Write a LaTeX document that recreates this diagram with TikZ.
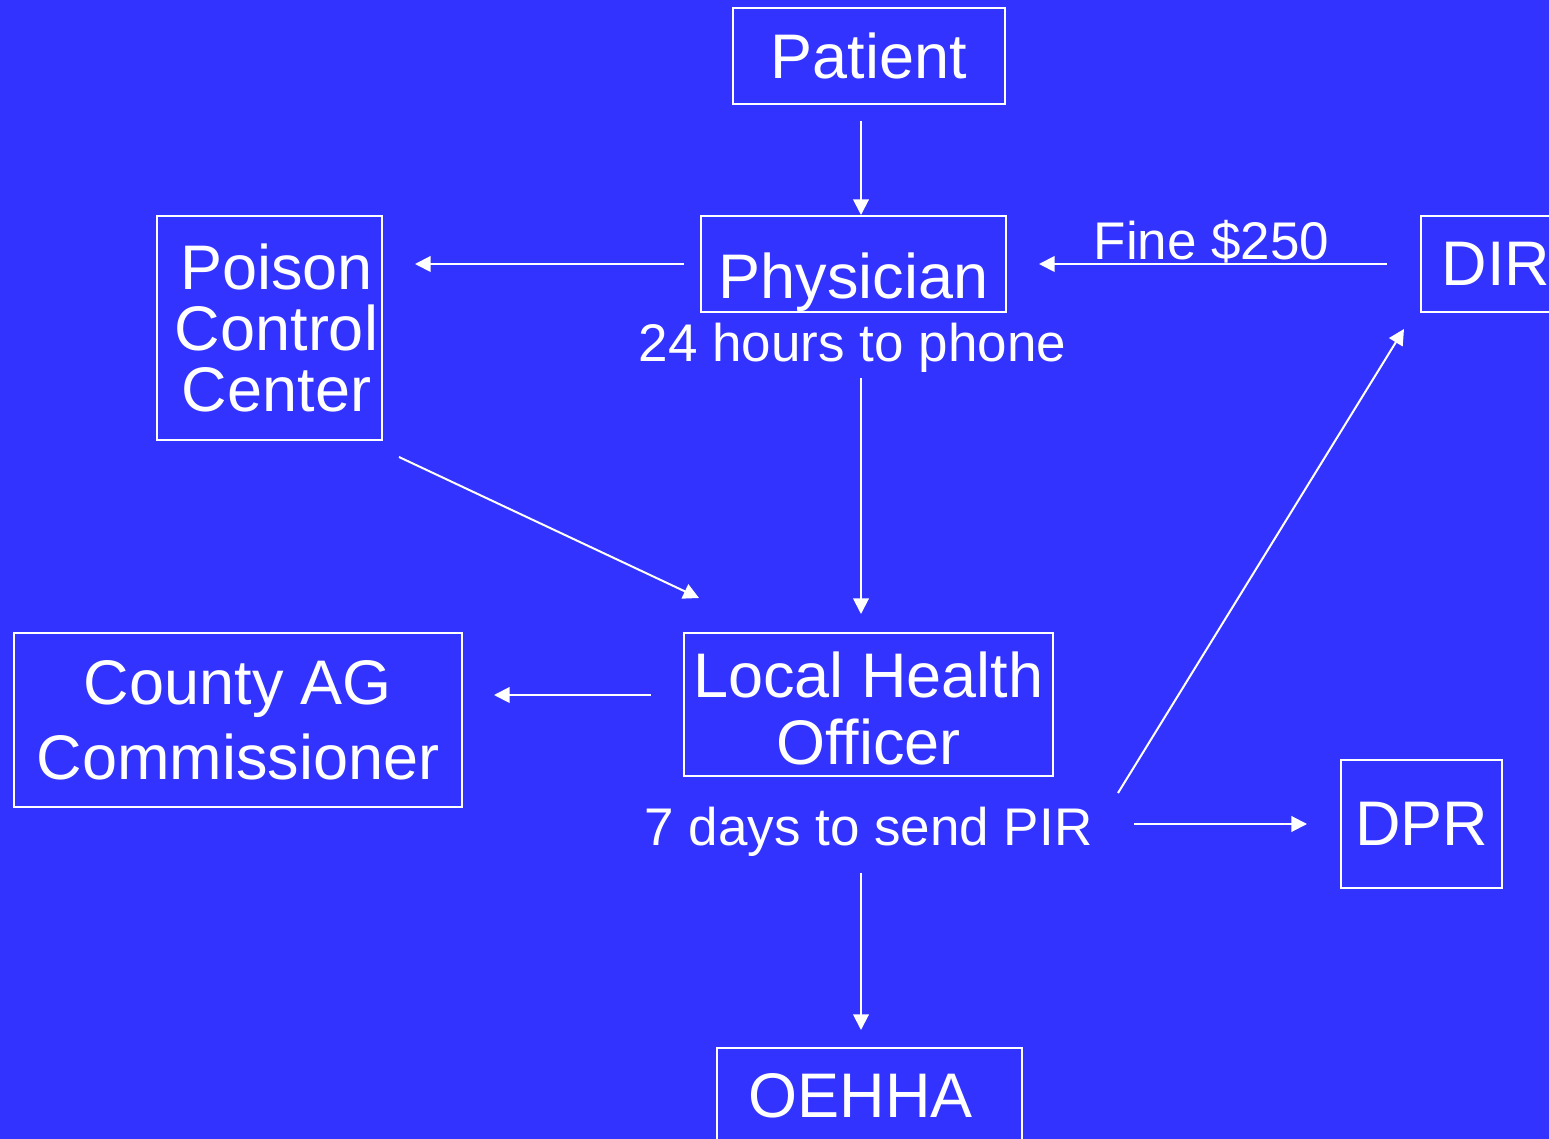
\documentclass[tikz,border=0pt]{standalone}
\usepackage{fontspec}
\setmainfont{Liberation Sans}
\usetikzlibrary{arrows.meta}
\definecolor{slideblue}{RGB}{51,51,255}
\newcommand{\agencyfont}{\fontsize{31.5bp}{30.5bp}\selectfont}
\newcommand{\notefont}{\fontsize{26.5bp}{30bp}\selectfont}

\begin{document}
\begin{tikzpicture}[x=0.5bp, y=-0.5bp, line width=1bp,
  agency/.style={draw=white, text=white, inner sep=0pt, align=center, font=\agencyfont},
  note/.style={text=white, inner sep=0pt, font=\notefont, anchor=base},
  flow/.style={white, -{Triangle[length=7.8bp,width=7.8bp]}}]
  \useasboundingbox (0,0) rectangle (1549,1139);
  \clip (0,0) rectangle (1549,1139);
  \fill[slideblue] (0,0) rectangle (1549,1139);                 % slide background

  \node[agency, minimum width=136bp, minimum height=48bp] (patient) at (869,56) {Patient};
  \node[agency, minimum width=152.5bp, minimum height=48bp, text height=35bp, text depth=0pt] (physician) at (853.5,264) {Physician};
  \node[agency, minimum width=112.5bp, minimum height=112bp] (poison) at (269.5,328)
    {\hspace*{7bp}Poison\\\hspace*{7bp}Control\\\hspace*{7bp}Center};
  \node[agency, minimum width=75bp, minimum height=48bp] (dir) at (1496,264) {DIR};
  \node[agency, minimum width=224bp, minimum height=87bp, font=\fontsize{31.5bp}{37.5bp}\selectfont] (county) at (238,720) {County AG\\Commissioner};
  \node[agency, minimum width=184.5bp, minimum height=71.5bp, text height=60.5bp, text depth=0pt, font=\fontsize{31.5bp}{33.5bp}\selectfont] (lho) at (868.5,704.5) {Local Health\\Officer};
  \node[agency, minimum width=80.5bp, minimum height=64bp] (dpr) at (1421.5,824) {DPR};
  \node[agency, minimum width=152.5bp, minimum height=48bp] (oehha) at (869.5,1096) {OEHHA\hspace*{9bp}};

  \node[note] (hours) at (852.5,362) {24 hours to phone};
  \node[note] (pir) at (868.5,846) {7 days to send PIR};
  \node[note] (fine) at (1211.5,260) {Fine \$250};

  \coordinate (spine) at (861,0);                               % x of the vertical flow
  \coordinate (agl) at ([yshift=4.75bp]lho.west);

  \draw[flow, shorten <=8bp] (patient.south -| spine) -- (physician.north -| spine);
  \draw[flow, shorten <=8bp, shorten >=16bp] (physician.west) -- (physician.west -| poison.east);
  \draw[flow, shorten <=16.5bp, shorten >=16bp] (dir.west) -- (physician.east);
  \draw[flow, shorten <=2bp, shorten >=9bp] (hours.south -| spine) -- (lho.north -| spine);
  \draw[flow] ([shift={(16,16)}]poison.south east) -- ([shift={(16,-34)}]lho.north west);
  \draw[flow, shorten <=16bp, shorten >=15.5bp] (agl) -- (agl -| county.east);
  \draw[flow] ([shift={(64,16)}]lho.south east) -- ([shift={(-16,16)}]dir.south west);
  \draw[flow, shorten <=20.5bp, shorten >=16.5bp] (pir.east |- dpr.west) -- (dpr.west);
  \draw[flow, shorten <=7.5bp, shorten >=8.5bp] (pir.south -| spine) -- (oehha.north -| spine);
\end{tikzpicture}
\end{document}
